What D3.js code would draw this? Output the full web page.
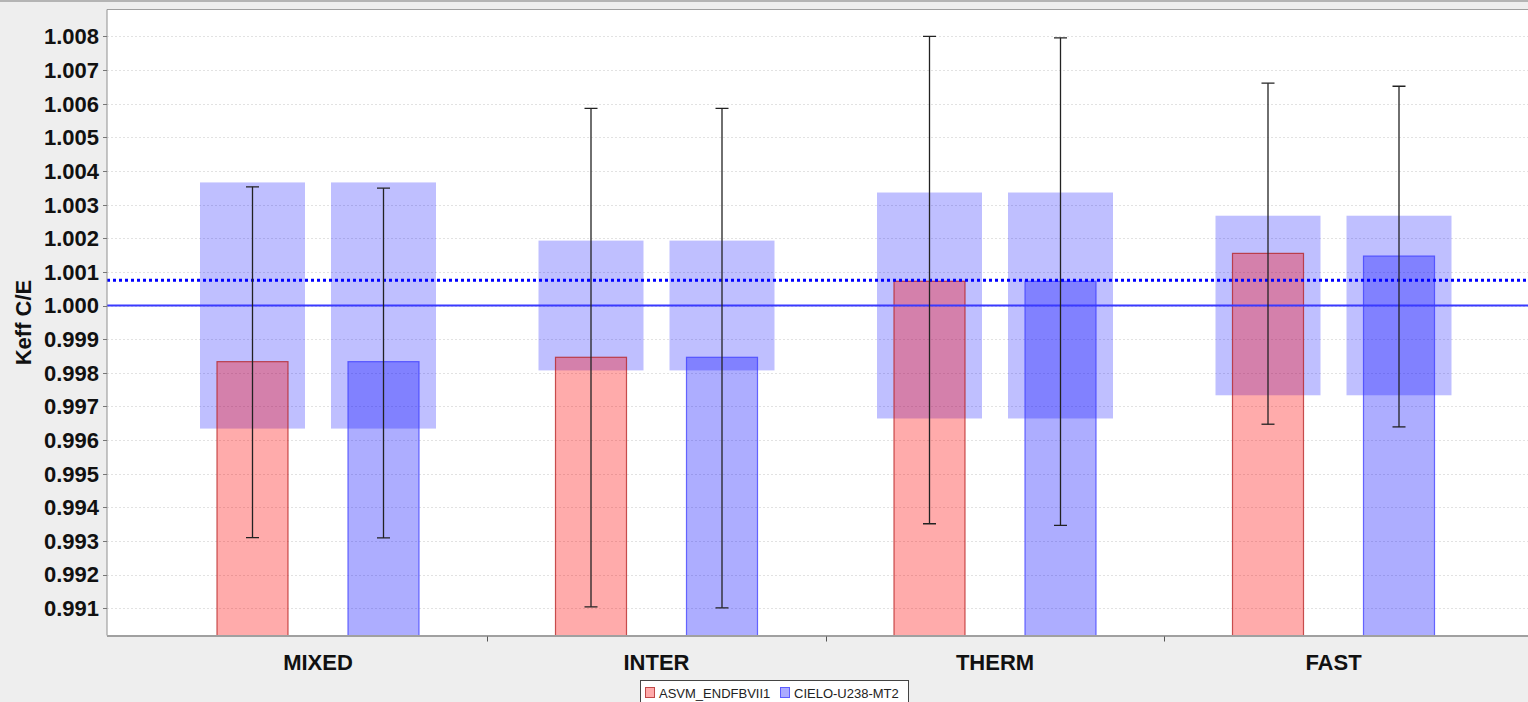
<!DOCTYPE html>
<meta charset="utf-8">
<style>
body { margin: 0; background: #eeeeee; font-family: "Liberation Sans", Arial, sans-serif; }
.ylab, .xlab { font-weight: bold; fill: #111; }
</style>
<body>
<div id="chart"></div>
<script src="https://d3js.org/d3.v7.min.js"></script>
<script>

// categories and series
var categories = ["MIXED", "INTER", "THERM", "FAST"];
var series = ["ASVM_ENDFBVII1", "CIELO-U238-MT2"];

// C/E values
var asvmValues  = [0.99833, 0.99846, 1.00072, 1.00155];
var cieloValues = [0.99833, 0.99846, 1.00072, 1.00147];

// error bar limits (low, high)
var asvmLow   = [0.99310, 0.99104, 0.99351, 0.99647];
var asvmHigh  = [1.00353, 1.00586, 1.00800, 1.00661];
var cieloLow  = [0.99309, 0.99101, 0.99346, 0.99639];
var cieloHigh = [1.00349, 1.00586, 1.00796, 1.00652];

// experimental uncertainty band half-widths (around 1.0)
var bandHalf = [0.00366, 0.00193, 0.00336, 0.00267];

var refValue = 1.000;
var meanLine = 1.00075;

var W = 1528, H = 702;
var plotLeft = 107, plotTop = 9.5, plotBottom = 635.5, plotRight = 1544;

var svg = d3.select("#chart").append("svg")
    .attr("width", W).attr("height", H);

// top window line
svg.append("line")
    .attr("x1", 0).attr("x2", W).attr("y1", 1).attr("y2", 1)
    .attr("stroke", "#a0a0a0").attr("stroke-width", 1.5);

var y = d3.scaleLinear().domain([0.990187, 1.008802]).range([plotBottom, plotTop]);
var x0 = d3.scaleBand().domain(categories).range([148.75, 1502.75]).padding(0);
var x1 = d3.scalePoint().domain(series).range([-65.5, 65.5]);

svg.append("clipPath").attr("id", "clip")
  .append("rect")
    .attr("x", plotLeft).attr("y", plotTop)
    .attr("width", plotRight - plotLeft).attr("height", plotBottom - plotTop);

svg.append("rect")
    .attr("x", plotLeft).attr("y", plotTop)
    .attr("width", plotRight - plotLeft).attr("height", plotBottom - plotTop)
    .attr("fill", "#fff");

var plot = svg.append("g").attr("clip-path", "url(#clip)");

var ticks = y.ticks(20);

// grid lines
plot.selectAll(".grid").data(ticks).enter().append("line")
    .attr("x1", plotLeft).attr("x2", plotRight)
    .attr("y1", function(d) { return Math.round(y(d)) + 0.5; })
    .attr("y2", function(d) { return Math.round(y(d)) + 0.5; })
    .attr("stroke", "#e2e2e2").attr("stroke-dasharray", "2,2");

var rows = [];
categories.forEach(function(c, i) {
  rows.push({cat: c, s: series[0], v: asvmValues[i], lo: asvmLow[i], hi: asvmHigh[i], band: bandHalf[i]});
  rows.push({cat: c, s: series[1], v: cieloValues[i], lo: cieloLow[i], hi: cieloHigh[i], band: bandHalf[i]});
});

function cx(d) { return x0(d.cat) + x0.bandwidth() / 2 + x1(d.s); }

// uncertainty boxes
plot.selectAll(".unc").data(rows).enter().append("rect")
    .attr("x", function(d) { return cx(d) - 52.5; })
    .attr("width", 105)
    .attr("y", function(d) { return y(refValue + d.band); })
    .attr("height", function(d) { return y(refValue - d.band) - y(refValue + d.band); })
    .attr("fill", "rgba(0,0,255,0.25)");

// bars
plot.selectAll(".bar").data(rows).enter().append("rect")
    .attr("x", function(d) { return cx(d) - 35.5; })
    .attr("width", 71)
    .attr("y", function(d) { return y(d.v); })
    .attr("height", function(d) { return plotBottom + 10 - y(d.v); })
    .attr("fill", function(d) { return d.s === series[0] ? "rgba(255,0,0,0.33)" : "rgba(0,0,255,0.32)"; })
    .attr("stroke", function(d) { return d.s === series[0] ? "rgba(180,30,30,0.75)" : "rgba(60,60,255,0.75)"; })
    .attr("stroke-width", 1.2);

// reference lines
plot.append("line")
    .attr("x1", plotLeft).attr("x2", plotRight)
    .attr("y1", y(refValue)).attr("y2", y(refValue))
    .attr("stroke", "#3a3aff").attr("stroke-width", 2);
plot.append("line")
    .attr("x1", plotLeft).attr("x2", plotRight)
    .attr("y1", y(meanLine)).attr("y2", y(meanLine))
    .attr("stroke", "#0000ff").attr("stroke-width", 3).attr("stroke-dasharray", "3,3");

// error bars
var eb = plot.selectAll(".err").data(rows).enter().append("g")
    .attr("stroke", "#222").attr("stroke-width", 1.3);
eb.append("line")
    .attr("x1", cx).attr("x2", cx)
    .attr("y1", function(d) { return y(d.hi); })
    .attr("y2", function(d) { return y(d.lo); });
eb.append("line")
    .attr("x1", function(d) { return cx(d) - 6.5; }).attr("x2", function(d) { return cx(d) + 6.5; })
    .attr("y1", function(d) { return y(d.hi); }).attr("y2", function(d) { return y(d.hi); });
eb.append("line")
    .attr("x1", function(d) { return cx(d) - 6.5; }).attr("x2", function(d) { return cx(d) + 6.5; })
    .attr("y1", function(d) { return y(d.lo); }).attr("y2", function(d) { return y(d.lo); });

// plot border
svg.append("line").attr("x1", plotLeft).attr("x2", plotRight).attr("y1", plotTop).attr("y2", plotTop)
    .attr("stroke", "#a0a0a0");
svg.append("line").attr("x1", plotLeft).attr("x2", plotLeft).attr("y1", plotTop).attr("y2", plotBottom)
    .attr("stroke", "#909090");
svg.append("line").attr("x1", plotLeft).attr("x2", plotRight).attr("y1", plotBottom + 0.5).attr("y2", plotBottom + 0.5)
    .attr("stroke", "#a0a0a0").attr("stroke-width", 2);

// y axis ticks and labels
var yt = svg.selectAll(".yt").data(ticks).enter().append("g");
yt.append("line")
    .attr("x1", plotLeft - 4).attr("x2", plotLeft)
    .attr("y1", function(d) { return Math.round(y(d)) + 0.5; })
    .attr("y2", function(d) { return Math.round(y(d)) + 0.5; })
    .attr("stroke", "#777");
yt.append("text").attr("class", "ylab")
    .attr("x", 99).attr("y", function(d) { return y(d); })
    .attr("dy", "0.36em")
    .attr("text-anchor", "end")
    .style("font-size", "22px")
    .text(d3.format(".3f"));

svg.append("text").attr("class", "ylab")
    .attr("transform", "translate(31," + ((plotTop + plotBottom) / 2) + ") rotate(-90)")
    .attr("text-anchor", "middle")
    .style("font-size", "22px")
    .text("Keff C/E");

// x axis: category boundaries and labels
svg.selectAll(".xt").data(categories.slice(1)).enter().append("line")
    .attr("x1", function(d) { return Math.round(x0(d)) + 0.5; })
    .attr("x2", function(d) { return Math.round(x0(d)) + 0.5; })
    .attr("y1", plotBottom + 1).attr("y2", plotBottom + 6)
    .attr("stroke", "#555");

svg.selectAll(".xl").data(categories).enter().append("text").attr("class", "xlab")
    .attr("x", function(d) { return x0(d) + x0.bandwidth() / 2; })
    .attr("y", 670)
    .attr("text-anchor", "middle")
    .style("font-size", "22px")
    .text(function(d) { return d; });

// legend
var lg = svg.append("g");
lg.append("rect").attr("x", 640.5).attr("y", 680.5).attr("width", 268).attr("height", 30)
    .attr("fill", "#fff").attr("stroke", "#444");
var legendItems = [
  {name: series[0], x: 645, fill: "#ffaaaa", stroke: "#c04848"},
  {name: series[1], x: 780, fill: "#aaaaff", stroke: "#5c5cff"}
];
legendItems.forEach(function(it) {
  lg.append("rect").attr("x", it.x + 0.5).attr("y", 687.5).attr("width", 9).attr("height", 10)
      .attr("fill", it.fill).attr("stroke", it.stroke);
  lg.append("text").attr("x", it.x + 14).attr("y", 697.5)
      .style("font-size", "13px").attr("fill", "#222")
      .text(it.name);
});

</script>
</body>
